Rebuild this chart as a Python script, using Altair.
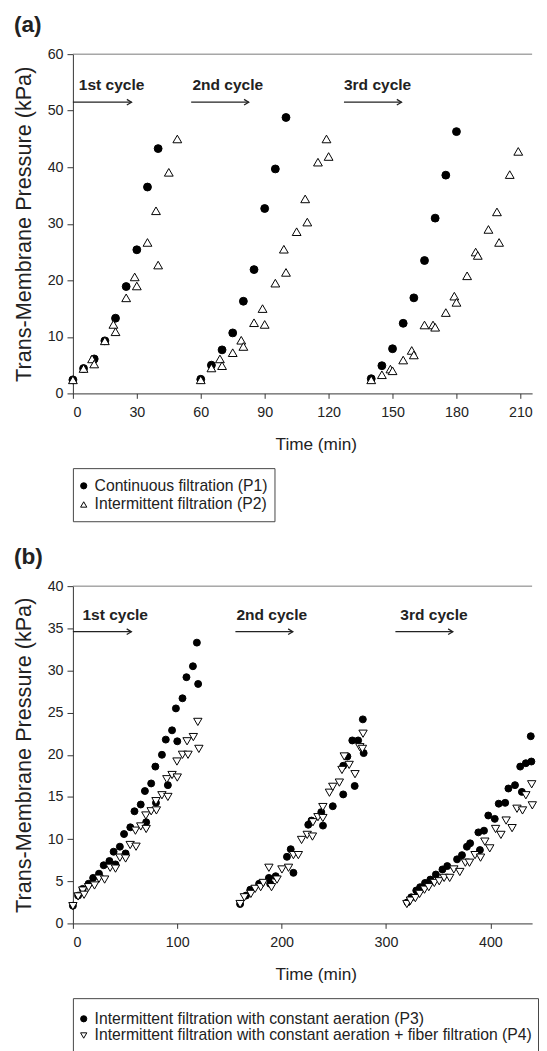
import altair as alt
import pandas as pd

FONT = "Liberation Sans"

# ---------------- Panel (a) data ----------------
a_p1_time = [0, 5, 10, 15, 20, 25, 30, 35, 40,
             60, 65, 70, 75, 80, 85, 90, 95, 100,
             140, 145, 150, 155, 160, 165, 170, 175, 180]
a_p1_tmp = [2.4, 4.4, 6.1, 9.3, 13.3, 18.9, 25.4, 36.5, 43.3,
            2.5, 5.0, 7.7, 10.7, 16.3, 21.9, 32.7, 39.7, 48.8,
            2.6, 4.9, 7.9, 12.4, 16.9, 23.5, 31.0, 38.6, 46.3]

a_p2_time = [0, 5, 9, 10, 15, 19, 20, 25, 29, 30, 35, 39, 40, 45, 49,
             60, 65, 69, 70, 75, 79, 80, 85, 89, 90, 95, 99, 100, 105, 109, 110, 115, 119, 120,
             140, 145, 149, 150, 155, 159, 160, 165, 169, 170, 175, 179, 180, 185, 189, 190,
             195, 199, 200, 205, 209]
a_p2_tmp = [2.4, 4.4, 6.1, 5.2, 9.3, 12.2, 10.9, 16.9, 20.6, 19.0, 26.7, 32.3, 22.7, 39.1, 45.0,
            2.4, 4.5, 6.1, 4.9, 7.2, 9.4, 8.3, 12.5, 15.0, 12.2, 19.5, 25.5, 21.4, 28.6, 34.4, 30.3, 40.9, 45.0, 41.9,
            2.4, 3.3, 4.3, 4.0, 5.9, 7.6, 6.8, 12.1, 12.1, 11.7, 14.3, 17.2, 16.1, 20.8, 25.0, 24.4,
            29.0, 32.1, 26.7, 38.7, 42.8]

a_labels = ["Continuous filtration (P1)", "Intermittent filtration (P2)"]
a_xticks = [0, 30, 60, 90, 120, 150, 180, 210]
a_yticks = [0, 10, 20, 30, 40, 50, 60]

a_cycle_text = ["1st cycle", "2nd cycle", "3rd cycle"]
a_cycle_text_x = [2.8, 56.1, 127.2]
a_cycle_text_y = [54.6, 54.6, 54.6]
a_arrow_start = [0, 55.5, 127.2]
a_arrow_end = [27.5, 82.5, 154.2]
a_arrow_y = [51.5, 51.5, 51.5]

# ---------------- Panel (b) data ----------------
b_p3_time = [0, 5, 9.4, 15, 19.4, 25, 29.5, 35, 39, 40.8, 45, 49, 50.5, 55, 59, 65, 69, 70.2, 75, 79,
             79.6, 85.3, 89, 91, 95, 98.7, 100, 105, 108.8, 115, 118.8, 120,
             160.2, 165.9, 170, 178.4, 187.8, 189, 194.3, 205.1, 208.7, 211.3, 225.5, 228.6, 238, 239.6,
             249, 259, 259, 263, 267.7, 270, 273.3, 277.8, 278.6,
             320.5, 324.2, 329, 332.7, 337.4, 342.5, 347.8, 354.1, 358.7, 368.1, 372.8, 377.5, 380.6,
             388.5, 390, 393.9, 398, 404.2, 408, 414.2, 417.3, 423.6, 428.6, 430.2, 434, 438.7, 439.3]
b_p3_tmp = [2.1, 3.3, 4.1, 4.7, 5.4, 5.9, 6.9, 7.4, 8.5, 7.0, 9.1, 10.6, 8.3, 11.4, 13.3, 14.1, 15.7, 12.0, 16.6, 18.6,
            14.3, 20.0, 21.8, 16.4, 22.9, 25.5, 21.6, 26.7, 29.2, 30.5, 33.3, 28.4,
            2.3, 3.3, 4.0, 4.7, 5.4, 4.7, 5.6, 7.9, 8.8, 6.0, 11.7, 12.2, 13.2, 11.6,
            13.9, 15.3, 18.7, 19.8, 21.7, 16.3, 21.7, 24.2, 20.2,
            2.5, 3.1, 3.9, 4.3, 4.8, 5.2, 5.8, 6.4, 6.8, 7.6, 8.1, 9.1, 9.5,
            10.8, 8.7, 11.0, 12.8, 12.4, 14.2, 14.3, 16.0, 16.4, 18.6, 15.6, 19.0, 22.2, 19.2]

b_p4_time = [0, 5, 9.4, 10.7, 15, 20.7, 25, 30.4, 35.7, 40.8, 45, 50.5, 54.9, 59.9, 60.5, 65, 69.9, 70.2, 75,
             79.6, 80, 85.3, 90, 91, 95, 99.7, 100, 105, 109.4, 110.3, 115.4, 119.7, 120.7,
             160.2, 164.3, 170.5, 174.6, 179.9, 182.4, 187.8, 190.3, 195.6, 200.3, 206.6, 211.3, 216,
             219.1, 224.5, 229.5, 230, 234.8, 239.5, 239.5, 245.8, 249, 255.3, 257.8, 260, 264.7,
             270.3, 274.9, 277.4, 278,
             320, 323.4, 328.1, 332.2, 336.9, 341, 346.3, 351, 355.7, 361, 365, 370.7, 376, 380,
             385.3, 390.6, 394.7, 399.4, 405, 410.1, 415.1, 420.8, 425.5, 430.8, 434, 439.6, 440.2]
b_p4_tmp = [2.05, 3.2, 3.9, 3.4, 4.3, 4.5, 5.3, 5.2, 6.6, 6.5, 7.8, 7.7, 9.3, 11.0, 9.1, 11.5, 12.8, 11.2, 13.3,
            14.5, 13.4, 15.2, 17.1, 15.0, 17.6, 19.2, 17.3, 20.0, 21.6, 20.0, 22.1, 23.9, 20.7,
            2.3, 3.1, 3.5, 4.1, 4.3, 4.8, 6.6, 4.3, 5.2, 6.4, 6.6, 8.1, 8.1,
            9.9, 10.5, 10.3, 12.0, 12.6, 12.5, 13.8, 15.5, 16.2, 16.7, 18.2, 19.8, 18.8,
            17.7, 20.9, 20.7, 22.5,
            2.3, 2.7, 3.0, 3.5, 4.0, 4.3, 4.8, 5.0, 5.4, 5.4, 6.4, 6.1, 7.2, 7.2,
            8.1, 7.8, 9.7, 8.9, 11.2, 10.5, 12.2, 11.3, 13.6, 13.4, 15.2, 16.5, 14.0]

b_labels = ["Intermittent filtration with constant aeration (P3)",
            "Intermittent filtration with constant aeration + fiber filtration (P4)"]
b_xticks = [0, 100, 200, 300, 400]
b_yticks = [0, 5, 10, 15, 20, 25, 30, 35, 40]

b_cycle_text = ["1st cycle", "2nd cycle", "3rd cycle"]
b_cycle_text_x = [9.1, 156.7, 313.7]
b_cycle_text_y = [36.6, 36.6, 36.6]
b_arrow_start = [0, 155.7, 309]
b_arrow_end = [56, 210.7, 364]
b_arrow_y = [34.6, 34.6, 34.6]

Y_TITLE = "Trans-Membrane Pressure (kPa)"
X_TITLE = "Time (min)"

W = 467
HA = 345
HB = 343
ARROW_HEAD = "M-1,-0.6L0,0L-1,0.6"
LEG_FONT = 16


def make_panel(p_time, p_tmp, q_time, q_tmp, labels, shapes, sizes, xdom, xticks, ydom, yticks,
               ct, ctx, cty, a0, a1, ay, h, title):
    df = pd.DataFrame({
        "time": list(p_time) + list(q_time),
        "tmp": list(p_tmp) + list(q_tmp),
        "series": [labels[0]] * len(p_time) + [labels[1]] * len(q_time),
    })
    xdef = alt.X("time:Q", scale=alt.Scale(domain=xdom, nice=False, zero=False),
                 axis=alt.Axis(values=xticks, title=X_TITLE, titleX=247, format="d"))
    ydef = alt.Y("tmp:Q", scale=alt.Scale(domain=ydom, nice=False),
                 axis=alt.Axis(values=yticks, title=Y_TITLE, orient="left", tickSize=6, format="d"))
    pts = alt.Chart(df).mark_point(filled=True, stroke="black", strokeWidth=1, opacity=1).encode(
        x=xdef, y=ydef,
        shape=alt.Shape("series:N", scale=alt.Scale(domain=labels, range=shapes), legend=None),
        fill=alt.Fill("series:N", scale=alt.Scale(domain=labels, range=["black", "white"]), legend=None),
        size=alt.Size("series:N", scale=alt.Scale(domain=labels, range=sizes), legend=None),
    )
    top = alt.Chart(pd.DataFrame({"k": [0]})).mark_rule(color="#777", strokeWidth=1).encode(
        y=alt.datum(ydom[1]), x=alt.value(0), x2=alt.value(W))
    arr_df = pd.DataFrame({"time": a0, "time_end": a1, "tmp": ay})
    arrows = alt.Chart(arr_df).mark_rule(color="#222", strokeWidth=1.3).encode(
        x=xdef, x2=alt.X2("time_end:Q"), y=ydef)
    head_df = pd.DataFrame({"time": a1, "tmp": ay})
    heads = alt.Chart(head_df).mark_point(shape=ARROW_HEAD, filled=False, stroke="#222",
                                          strokeWidth=1.3, size=90, opacity=1).encode(x=xdef, y=ydef)
    txt_df = pd.DataFrame({"time": ctx, "tmp": cty, "label": ct})
    texts = alt.Chart(txt_df).mark_text(align="left", baseline="middle", font=FONT, fontWeight="bold",
                                        fontSize=15.8, color="#222").encode(x=xdef, y=ydef, text="label:N")
    return alt.layer(top, arrows, heads, texts, pts).properties(
        width=W, height=h,
        title=alt.TitleParams(title, anchor="start", frame="group", dx=-60, fontSize=23, font=FONT,
                              fontWeight="bold", color="#222", offset=10),
    )


def make_legend(labels, shapes, width, height, ydom):
    ldf = pd.DataFrame({"idx": [0, 1], "series": labels})
    ydef = alt.Y("idx:Q", scale=alt.Scale(domain=ydom, reverse=True, nice=False, zero=False), axis=None)
    sym = alt.Chart(ldf).mark_point(filled=True, stroke="black", strokeWidth=1, opacity=1, size=40).encode(
        x=alt.value(11), y=ydef,
        shape=alt.Shape("series:N", scale=alt.Scale(domain=labels, range=shapes), legend=None),
        fill=alt.Fill("series:N", scale=alt.Scale(domain=labels, range=["black", "white"]), legend=None),
    )
    txt = alt.Chart(ldf).mark_text(align="left", baseline="middle", font=FONT, fontSize=LEG_FONT,
                                   color="#222").encode(x=alt.value(22), y=ydef, text="series:N")
    return alt.layer(sym, txt).properties(
        width=width, height=height,
        view=alt.ViewBackground(stroke="#444", strokeWidth=1, fill="white"),
    )


panel_a = make_panel(a_p1_time, a_p1_tmp, a_p2_time, a_p2_tmp, a_labels, ["circle", "triangle-up"], [64, 80],
                     [0, 215.5], a_xticks, [0, 60], a_yticks,
                     a_cycle_text, a_cycle_text_x, a_cycle_text_y, a_arrow_start, a_arrow_end, a_arrow_y,
                     HA, "(a)")
panel_b = make_panel(b_p3_time, b_p3_tmp, b_p4_time, b_p4_tmp, b_labels, ["circle", "triangle-down"], [50, 72],
                     [0, 440], b_xticks, [0, 40], b_yticks,
                     b_cycle_text, b_cycle_text_x, b_cycle_text_y, b_arrow_start, b_arrow_end, b_arrow_y,
                     HB, "(b)")

legend_a = make_legend(a_labels, ["circle", "triangle-up"], 205, 54, [-0.95, 1.9])
legend_b = make_legend(b_labels, ["circle", "triangle-down"], 473, 56, [-1.235, 2.06])

chart = alt.vconcat(
    alt.vconcat(panel_a, legend_a, spacing=14),
    alt.vconcat(panel_b, legend_b, spacing=14),
    spacing=24,
).resolve_scale(
    shape="independent", fill="independent", size="independent"
).properties(
    padding={"left": 4, "top": -3, "right": 0, "bottom": 0}
).configure_view(stroke=None).configure_axis(
    grid=False, labelFont=FONT, labelFontSize=14.5, labelColor="#222", tickColor="#333",
    domainColor="#333", titleFont=FONT, titleFontWeight="normal", titleColor="#222",
    tickSize=5, labelPadding=4,
).configure_axisX(titleFontSize=17.5, titlePadding=17.5, labelPadding=7.5).configure_axisY(
    titleFontSize=22, titlePadding=12)

chart.save("out.html", embed_options={"renderer": "svg", "actions": False})
